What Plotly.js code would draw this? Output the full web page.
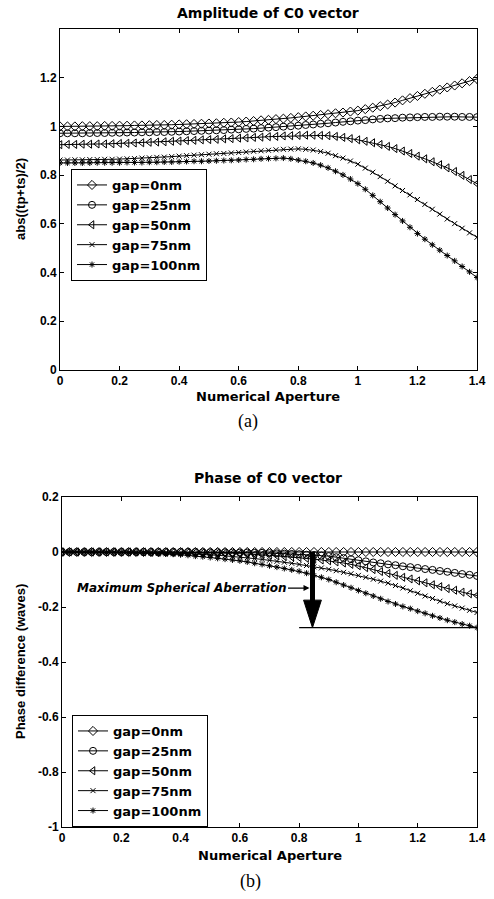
<!DOCTYPE html>
<html>
<head>
<meta charset="utf-8">
<script src="https://cdn.plot.ly/plotly-3.0.1.min.js"></script>
<style>html,body{margin:0;padding:0;background:#fff;}#chart{width:494px;height:899px;}</style>
</head>
<body>
<div id="chart"></div>
<script>
// Numerical aperture samples
const na = [0,0.025,0.05,0.075,0.1,0.125,0.15,0.175,0.2,0.225,0.25,0.275,0.3,0.325,0.35,0.375,0.4,0.425,0.45,0.475,0.5,0.525,0.55,0.575,0.6,0.625,0.65,0.675,0.7,0.725,0.75,0.775,0.8,0.825,0.85,0.875,0.9,0.925,0.95,0.975,1.0,1.025,1.05,1.075,1.1,1.125,1.15,1.175,1.2,1.225,1.25,1.275,1.3,1.325,1.35,1.375,1.4];

const seriesNames = ["gap=0nm","gap=25nm","gap=50nm","gap=75nm","gap=100nm"];

// (a) Amplitude of C0 vector
const amp0 = [1.000,1.000,1.000,1.001,1.001,1.001,1.002,1.002,1.003,1.003,1.004,1.004,1.005,1.006,1.006,1.007,1.008,1.009,1.010,1.011,1.012,1.013,1.015,1.016,1.018,1.020,1.022,1.025,1.027,1.030,1.032,1.035,1.038,1.041,1.044,1.047,1.050,1.054,1.057,1.061,1.065,1.071,1.077,1.083,1.090,1.098,1.107,1.116,1.125,1.134,1.142,1.151,1.160,1.168,1.177,1.186,1.195];
const amp25 = [0.972,0.972,0.972,0.972,0.973,0.973,0.973,0.974,0.974,0.975,0.975,0.976,0.976,0.977,0.977,0.978,0.979,0.980,0.981,0.982,0.983,0.984,0.985,0.987,0.988,0.990,0.991,0.993,0.995,0.997,0.999,1.001,1.003,1.006,1.008,1.011,1.013,1.016,1.019,1.021,1.024,1.026,1.029,1.031,1.033,1.034,1.036,1.037,1.038,1.039,1.039,1.040,1.040,1.040,1.039,1.039,1.038];
const amp50 = [0.925,0.926,0.926,0.927,0.927,0.928,0.928,0.929,0.930,0.931,0.932,0.933,0.935,0.936,0.937,0.939,0.940,0.942,0.943,0.945,0.946,0.947,0.949,0.950,0.952,0.953,0.955,0.956,0.958,0.959,0.961,0.962,0.963,0.964,0.964,0.963,0.962,0.959,0.955,0.950,0.945,0.939,0.933,0.926,0.918,0.909,0.899,0.889,0.878,0.867,0.855,0.843,0.830,0.815,0.799,0.782,0.765];
const amp75 = [0.862,0.862,0.863,0.863,0.864,0.864,0.865,0.865,0.866,0.867,0.868,0.870,0.871,0.873,0.874,0.876,0.878,0.880,0.882,0.884,0.886,0.888,0.889,0.891,0.893,0.895,0.898,0.900,0.902,0.904,0.906,0.907,0.908,0.906,0.903,0.897,0.890,0.880,0.870,0.858,0.845,0.829,0.812,0.794,0.775,0.756,0.737,0.719,0.700,0.680,0.660,0.640,0.620,0.601,0.582,0.563,0.545];
const amp100 = [0.850,0.850,0.850,0.850,0.850,0.851,0.851,0.851,0.851,0.852,0.852,0.852,0.853,0.853,0.854,0.854,0.855,0.856,0.857,0.857,0.858,0.859,0.860,0.861,0.862,0.864,0.865,0.867,0.868,0.869,0.870,0.867,0.862,0.857,0.850,0.841,0.830,0.816,0.801,0.784,0.765,0.742,0.717,0.691,0.665,0.638,0.612,0.586,0.560,0.537,0.514,0.492,0.470,0.448,0.425,0.403,0.380];

// (b) Phase of C0 vector (waves)
const ph0 = [0,0,0,0,0,0,0,0,0,0,0,0,0,0,0,0,0,0,0,0,0,0,0,0,0,0,0,0,0,0,0,0,0,0,0,0,0,0,0,0,0,0,0,0,0,0,0,0,0,0,0,0,0,0,0,0,0];
const ph25 = [0,0,0,0,0,0,0,0,0,0,0,0,0,0,0,0,0,0,0,-0.001,-0.001,-0.001,-0.001,-0.002,-0.002,-0.002,-0.003,-0.003,-0.004,-0.005,-0.006,-0.007,-0.008,-0.010,-0.011,-0.013,-0.015,-0.019,-0.022,-0.026,-0.030,-0.034,-0.038,-0.041,-0.045,-0.048,-0.052,-0.055,-0.058,-0.062,-0.065,-0.069,-0.072,-0.076,-0.080,-0.083,-0.087];
const ph50 = [0,0,0,0,0,0,0,0,0,0,0,0,-0.001,-0.001,-0.001,-0.001,-0.001,-0.002,-0.002,-0.003,-0.003,-0.004,-0.004,-0.005,-0.006,-0.007,-0.009,-0.010,-0.012,-0.014,-0.016,-0.018,-0.020,-0.023,-0.026,-0.029,-0.032,-0.036,-0.040,-0.045,-0.050,-0.057,-0.064,-0.071,-0.078,-0.085,-0.092,-0.098,-0.105,-0.112,-0.119,-0.126,-0.133,-0.139,-0.146,-0.152,-0.158];
const ph75 = [0,0,0,0,0,-0.001,-0.001,-0.001,-0.001,-0.001,-0.002,-0.002,-0.002,-0.003,-0.003,-0.004,-0.005,-0.006,-0.007,-0.009,-0.010,-0.012,-0.014,-0.016,-0.018,-0.021,-0.024,-0.027,-0.030,-0.034,-0.037,-0.041,-0.045,-0.049,-0.054,-0.058,-0.063,-0.068,-0.074,-0.079,-0.085,-0.092,-0.099,-0.106,-0.113,-0.122,-0.131,-0.141,-0.150,-0.160,-0.169,-0.179,-0.188,-0.196,-0.204,-0.212,-0.220];
const ph100 = [0,0,0,-0.001,-0.001,-0.001,-0.002,-0.002,-0.002,-0.003,-0.003,-0.004,-0.005,-0.006,-0.007,-0.008,-0.010,-0.012,-0.015,-0.017,-0.020,-0.023,-0.026,-0.029,-0.032,-0.036,-0.041,-0.045,-0.050,-0.055,-0.060,-0.065,-0.070,-0.077,-0.085,-0.092,-0.100,-0.110,-0.120,-0.130,-0.140,-0.150,-0.160,-0.170,-0.180,-0.189,-0.198,-0.206,-0.215,-0.223,-0.232,-0.240,-0.248,-0.255,-0.262,-0.268,-0.275];

const xTicks = [0,0.2,0.4,0.6,0.8,1,1.2,1.4];
const xTickText = ["0","0.2","0.4","0.6","0.8","1","1.2","1.4"];
const yTicksA = [0,0.2,0.4,0.6,0.8,1,1.2];
const yTickTextA = ["0","0.2","0.4","0.6","0.8","1","1.2"];
const yTicksB = [0.2,0,-0.2,-0.4,-0.6,-0.8,-1];
const yTickTextB = ["0.2","0","-0.2","-0.4","-0.6","-0.8","-1"];

// annotation anchors (b)
const arrowNA = 0.845;
const refLineStartNA = 0.8;

const ampSeries = [amp0, amp25, amp50, amp75, amp100];
const phSeries = [ph0, ph25, ph50, ph75, ph100];
const symbols = ["diamond-open","circle-open","triangle-left-open","x-thin-open","asterisk-open"];
const msizes = [7,7,7,5,5];

const FONT = "Liberation Sans, Arial, sans-serif";
const WIDE = "DejaVu Sans, Verdana, sans-serif";
const traces = [];
ampSeries.forEach((s,i)=>{
  traces.push({x:na, y:s, xaxis:'x', yaxis:'y', name:seriesNames[i], legend:'legend', mode:'lines+markers',
    line:{color:'#000', width:1}, marker:{symbol:symbols[i], size:msizes[i], color:'#000', line:{color:'#000', width:1}}});
});
phSeries.forEach((s,i)=>{
  traces.push({x:na, y:s, xaxis:'x2', yaxis:'y2', name:seriesNames[i], legend:'legend2', mode:'lines+markers',
    line:{color:'#000', width:1}, marker:{symbol:symbols[i], size:msizes[i], color:'#000', line:{color:'#000', width:1}}});
});

const W=494, H=899;
const axBase = {showline:true, linecolor:'#000', linewidth:1, mirror:'ticks', ticks:'inside', ticklen:4, tickcolor:'#000',
  showgrid:false, zeroline:false, tickfont:{family:FONT, size:12, color:'#000', weight:'bold'}, fixedrange:true};

const ymaxB = ph100[ph100.length-1];
const legendFont = {family:WIDE, size:13, color:'#000', weight:'bold'};
function txt(t, x, y, font, extra){
  return Object.assign({text:t, xref:'paper', yref:'paper', x:x/W, y:1-y/H, showarrow:false, xanchor:'center', yanchor:'middle', font:font}, extra||{});
}
const titleFont = {family:WIDE, size:14, weight:'bold', color:'#000'};
const axTitleFont = {family:WIDE, size:13, weight:'bold', color:'#000'};
const yTitleFont = {family:FONT, size:13, weight:'bold', color:'#000'};
const capFont = {family:'Liberation Serif, Times New Roman, serif', size:18, color:'#000'};

const layout = {
  width:W, height:H, margin:{l:0,r:0,t:0,b:0}, paper_bgcolor:'#fff', plot_bgcolor:'#fff', showlegend:true,
  font:{family:FONT, color:'#000'},
  xaxis:Object.assign({}, axBase, {domain:[60/W, 477/W], anchor:'y', range:[0,1.4], tickvals:xTicks, ticktext:xTickText}),
  yaxis:Object.assign({}, axBase, {domain:[1-370/H, 1-29/H], anchor:'x', range:[0,1.4], tickvals:yTicksA, ticktext:yTickTextA}),
  xaxis2:Object.assign({}, axBase, {domain:[62/W, 477/W], anchor:'y2', range:[0,1.4], tickvals:xTicks, ticktext:xTickText}),
  yaxis2:Object.assign({}, axBase, {domain:[1-827/H, 1-497/H], anchor:'x2', range:[-1,0.2], tickvals:yTicksB, ticktext:yTickTextB}),
  legend:{x:71/W, y:1-169/H, xanchor:'left', yanchor:'top', bgcolor:'#fff', bordercolor:'#000', borderwidth:1,
    font:legendFont, itemwidth:30, tracegroupgap:0},
  legend2:{x:72/W, y:1-715/H, xanchor:'left', yanchor:'top', bgcolor:'#fff', bordercolor:'#000', borderwidth:1,
    font:legendFont, itemwidth:30, tracegroupgap:0},
  annotations:[
    txt('Amplitude of C0 vector', 268, 13, titleFont),
    txt('Numerical Aperture', 268, 396, axTitleFont),
    txt('abs((tp+ts)/2)', 20, 199, yTitleFont, {textangle:-90}),
    txt('(a)', 248, 421, capFont),
    txt('Phase of C0 vector', 268, 478, titleFont),
    txt('Numerical Aperture', 270, 855, axTitleFont),
    txt('Phase difference (waves)', 20, 662, yTitleFont, {textangle:-90}),
    txt('(b)', 250, 881, capFont),
    {text:'<i>Maximum Spherical Aberration</i>', xref:'x2', yref:'y2', x:arrowNA-0.01, y:-0.131, ax:-128, ay:0, showarrow:true,
      arrowhead:2, arrowsize:1, arrowwidth:1.2, arrowcolor:'#000', standoff:0, font:{family:WIDE,size:12,weight:'bold',color:'#000'}}
  ],
  shapes:[
    {type:'line', xref:'x2', yref:'y2', x0:refLineStartNA, x1:1.4, y0:ymaxB, y1:ymaxB, line:{color:'#000', width:1.2}},
    {type:'line', xref:'x2', yref:'y2', x0:arrowNA, x1:arrowNA, y0:0, y1:ymaxB+0.09, line:{color:'#000', width:5}},
    {type:'path', xref:'x2', yref:'y2', path:'M '+(arrowNA-0.03)+' '+(ymaxB+0.1)+' L '+(arrowNA+0.03)+' '+(ymaxB+0.1)+' L '+arrowNA+' '+ymaxB+' Z', fillcolor:'#000', line:{color:'#000', width:1}}
  ]
};

Plotly.newPlot('chart', traces, layout, {staticPlot:true, displayModeBar:false});
</script>
</body>
</html>
